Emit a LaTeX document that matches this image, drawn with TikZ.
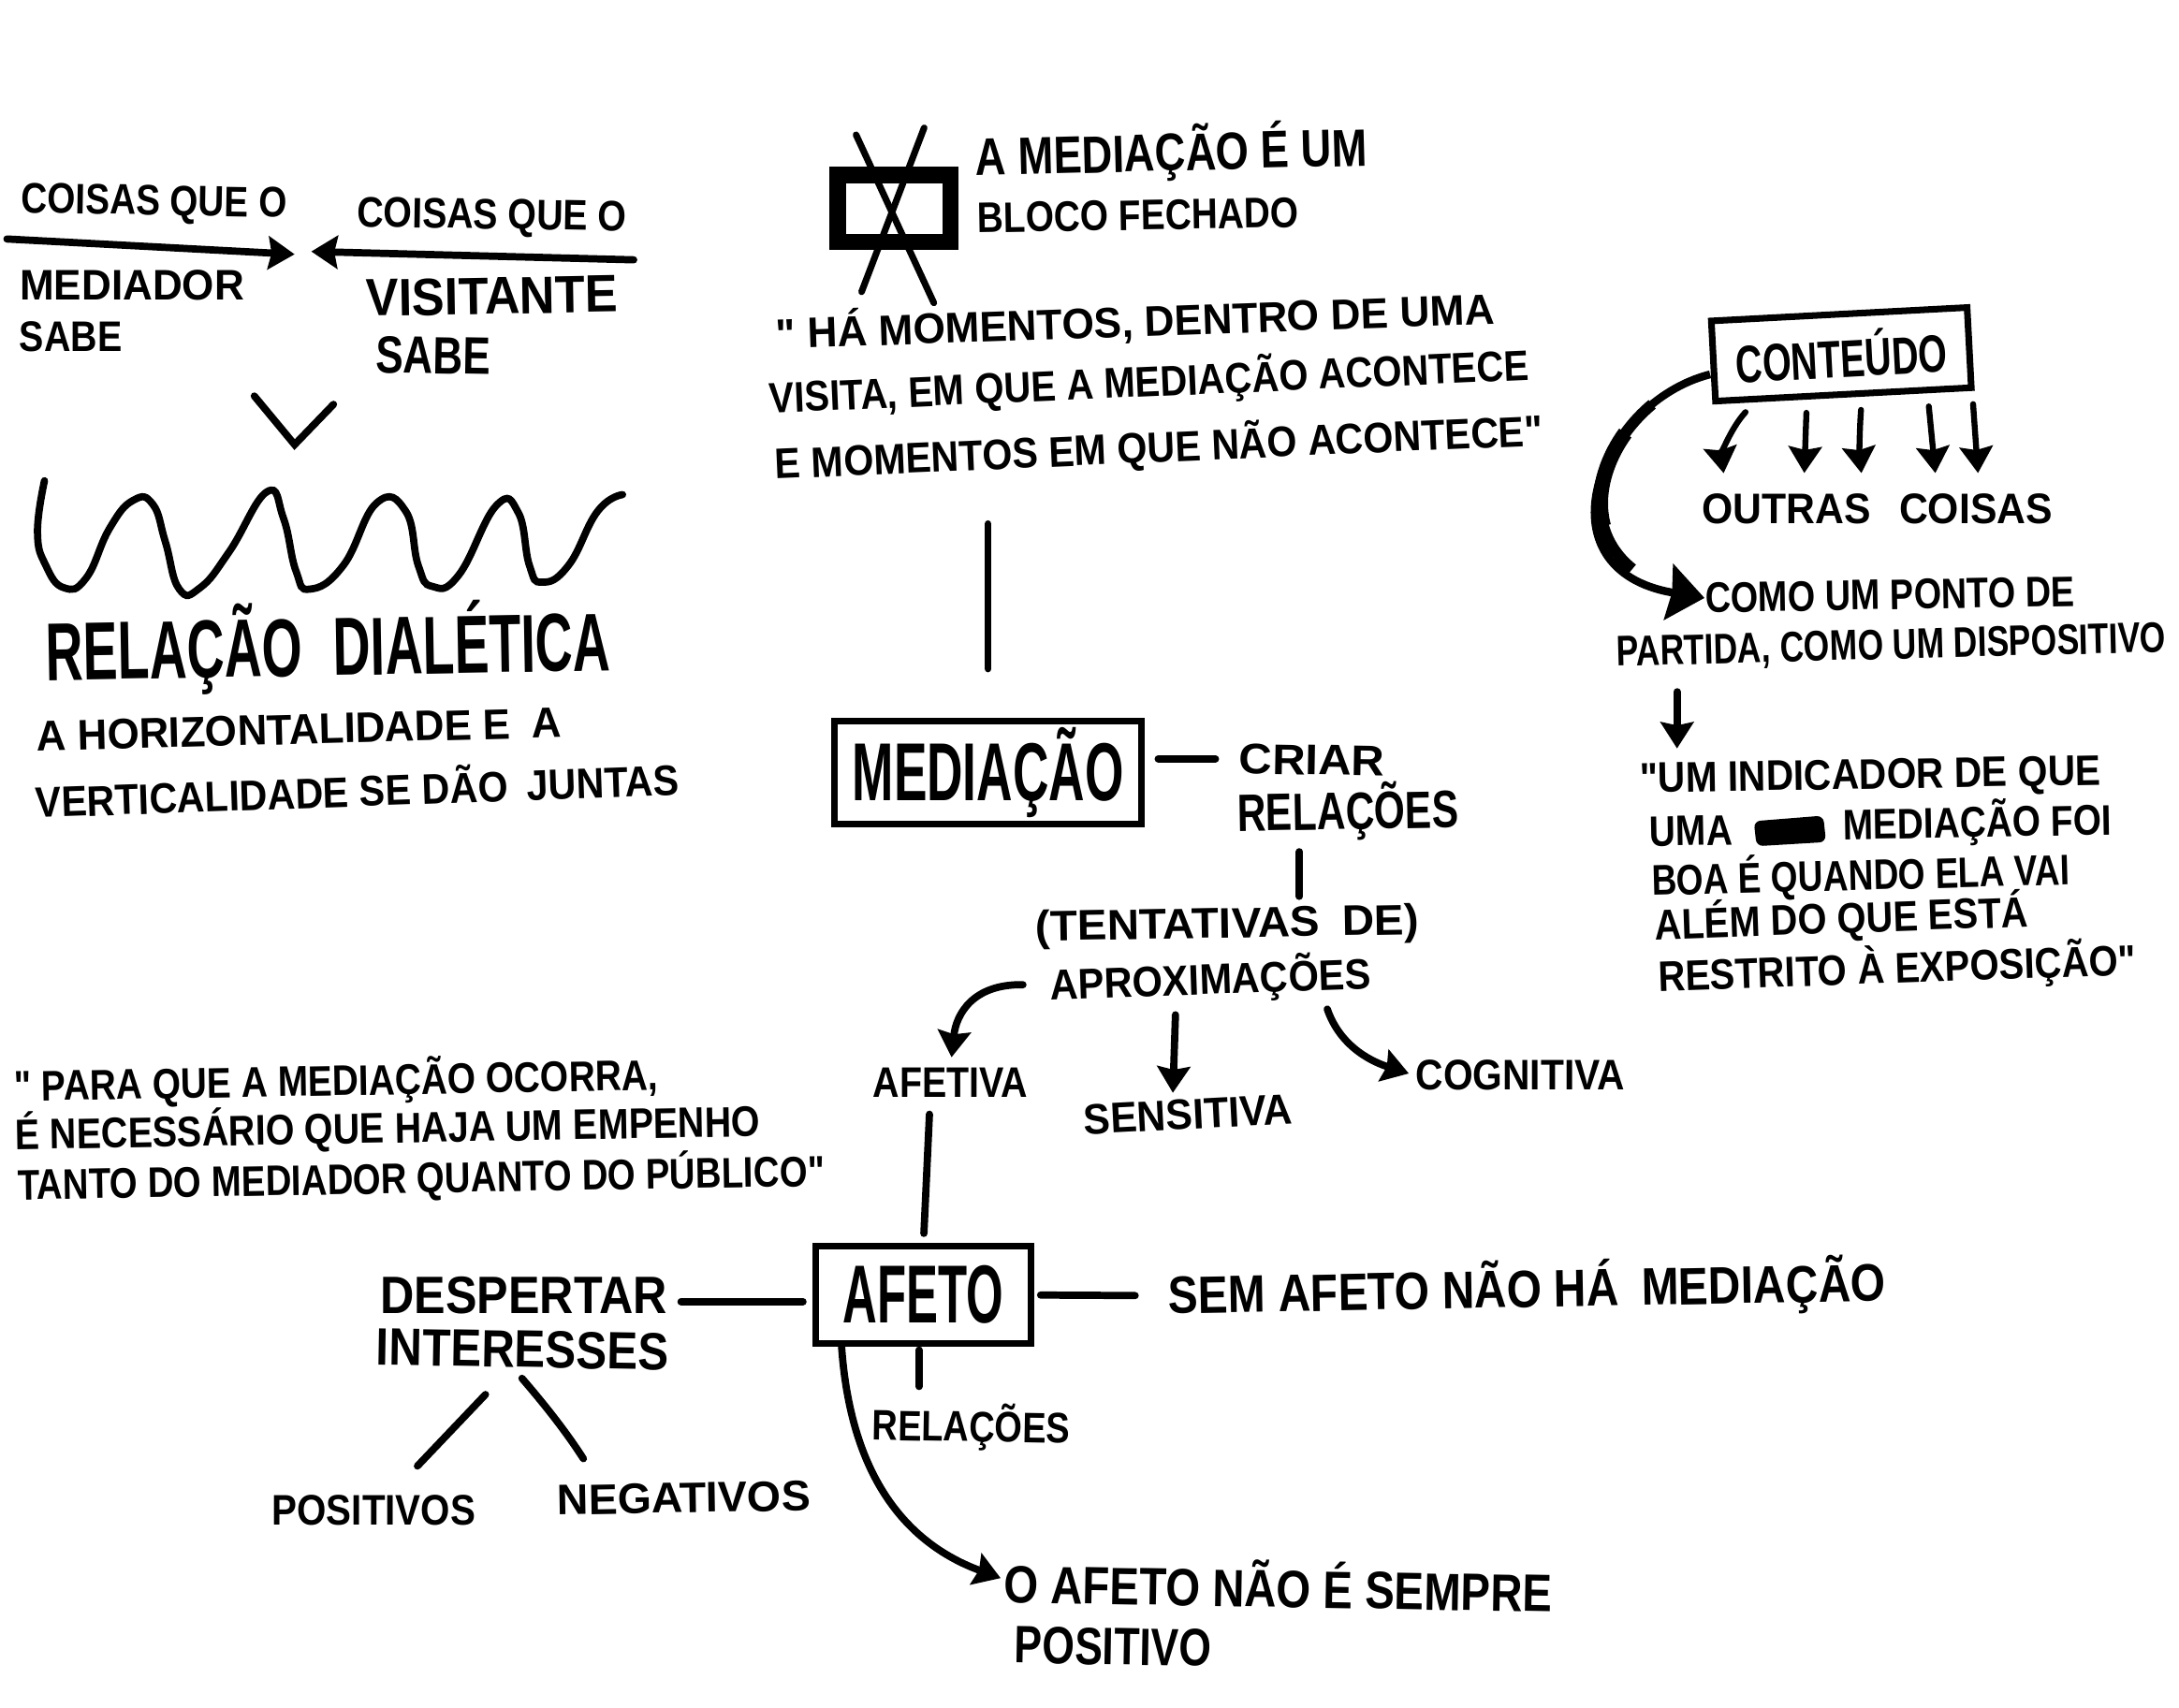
\documentclass[tikz,border=0pt]{standalone}
\usepackage{fontspec}
\setmainfont{Liberation Sans}[Ligatures=TeXOff]
\usepackage{graphicx}
\usetikzlibrary{arrows.meta,calc}

% squeeze a line of text to a width given in picture units
\newcommand{\fitw}[2]{\sbox0{#2}\pgfmathsetmacro\hratio{#1*0.42086/\the\wd0}\scalebox{\hratio}[1]{\usebox0}}

\tikzset{
  handS/.style={inner sep=0pt,font=\fontsize{13}{15}\selectfont\bfseries},
  handM/.style={inner sep=0pt,font=\fontsize{16}{18}\selectfont\bfseries},
  handL/.style={inner sep=0pt,font=\fontsize{25}{28}\selectfont\bfseries},
  boxed/.style={draw,line width=2pt,inner sep=0pt,align=center},
  link/.style={line width=2.2pt,line cap=round},
  tiplink/.style={link,-{Stealth[length=8pt,width=10pt,inset=1pt]}}
}

\begin{document}
\begin{tikzpicture}[>=Stealth,x=0.014847cm,y=-0.014847cm]
  \useasboundingbox (0,0) rectangle (1568,1228.6);

  % left column
  \node[handS,rotate=-1] (coisasm) at (111,147) {\fitw{192}{COISAS QUE O}};
  \node[handS,rotate=-1] (coisasv) at (354,157) {\fitw{195}{COISAS QUE O}};
  \node[handS] (mediador) at (95,205) {\fitw{162}{MEDIADOR}};
  \node[handS] (sabem) at (51,242) {\fitw{74}{SABE}};
  \node[handM,rotate=1] (visitante) at (354,213) {\fitw{182}{VISITANTE}};
  \node[handM,rotate=-1] (sabev) at (312,256) {\fitw{83}{SABE}};
  \coordinate (mstart) at (5,172);
  \coordinate (mend) at (212,183);
  \coordinate (vstart) at (456,187);
  \coordinate (vend) at (224,181);
  \draw[tiplink] (mstart) -- (mend);
  \draw[tiplink] (vstart) -- (vend);
  \draw[link] (183,285) -- (212,320) -- (240,291);
  \draw[link] plot[smooth,tension=0.8] coordinates {(32,346) (27,383) (33,407) (46,423) (62,416) (79,380) (96,360) (110,363) (119,390) (129,424) (144,423) (165,397) (192,354) (204,373) (213,411) (223,424) (247,407) (271,362) (292,368) (301,407) (311,422) (330,414) (357,364) (373,369) (381,407) (390,419) (409,407) (430,368) (448,356)};
  \node[handL,rotate=1] (dialetica) at (236,466) {\fitw{408}{RELAÇÃO\hspace{0.6em}DIALÉTICA}};
  \node[handS,rotate=1.5] (horiz) at (215,525) {\fitw{379}{A HORIZONTALIDADE E\hspace{0.5em}A}};
  \node[handS,rotate=2] (vert) at (257,567) {\fitw{465}{VERTICALIDADE SE DÃO\hspace{0.5em}JUNTAS}};

  % closed block
  \draw[line width=5pt] (603,126) rectangle (684,174);
  \draw[line width=2pt,line cap=round] (616,97) -- (672,218);
  \draw[line width=2pt,line cap=round] (665,92) -- (620,210);
  \node[handM,rotate=1.5] (blocoa) at (843,110) {\fitw{283}{A MEDIAÇÃO É UM}};
  \node[handS,rotate=1] (blocob) at (819,155) {\fitw{232}{BLOCO FECHADO}};
  \node[handS,rotate=2] (momentosa) at (817,231) {\fitw{519}{" HÁ MOMENTOS, DENTRO DE UMA}};
  \node[handS,rotate=2.5] (momentosb) at (827,275) {\fitw{549}{VISITA, EM QUE A MEDIAÇÃO ACONTECE}};
  \node[handS,rotate=2.5] (momentosc) at (834,322) {\fitw{555}{E MOMENTOS EM QUE NÃO ACONTECE"}};

  % centre column
  \node[boxed,handL,boxed,minimum width=222*0.42086pt,minimum height=74*0.42086pt] (mediacao) at (711,556) {\fitw{196}{MEDIAÇÃO}};
  \draw[link,shorten <=15pt,shorten >=16pt] (mediacao.north) -- (mediacao.north |- momentosc.south);
  \node[handS,rotate=-1] (criar) at (944,547) {\fitw{105}{CRIAR}};
  \node[handM,rotate=1] (relacoes) at (970,584) {\fitw{160}{RELAÇÕES}};
  \draw[link,shorten <=4pt,shorten >=7pt] (mediacao.east |- criar.west) -- (criar.west);
  \node[handS,rotate=1] (tentativas) at (883,667) {\fitw{277}{(TENTATIVAS\hspace{0.5em}DE)}};
  \node[handS,rotate=2] (aprox) at (871,705) {\fitw{232}{APROXIMAÇÕES}};
  \coordinate (relaeixo) at ($(relacoes.south west)!.28!(relacoes.south east)$);
  \draw[link,shorten <=3pt,shorten >=3pt] (relaeixo) -- (relaeixo |- tentativas.north);
  \node[handS] (afetiva) at (684,779) {\fitw{112}{AFETIVA}};
  \node[handS,rotate=3] (sensitiva) at (855,802) {\fitw{151}{SENSITIVA}};
  \node[handS] (cognitiva) at (1094,774) {\fitw{151}{COGNITIVA}};
  \draw[tiplink,shorten <=8pt,shorten >=3pt] (aprox.west) .. controls (700,708) and (688,730) .. (afetiva.north);
  \draw[tiplink,shorten <=3pt,shorten >=2pt] ($(aprox.south west)!.39!(aprox.south east)$) -- ($(sensitiva.north west)!.43!(sensitiva.north east)$);
  \draw[tiplink,shorten <=3pt,shorten >=2pt] ($(aprox.south west)!.85!(aprox.south east)$) .. controls (965,755) and (990,765) .. (cognitiva.west);

  % upper right
  \node[boxed,handM,rotate=3,minimum width=185*0.42086pt,minimum height=58*0.42086pt] (conteudo) at (1325,255) {\raisebox{-3pt}{\fitw{153}{CONTEÚDO}}};
  \node[handS] (outras) at (1351,366) {\fitw{253}{OUTRAS\hspace{0.7em}COISAS}};
  \foreach \t/\h/\b in {.16/.07/25,.36/.29/0,.57/.46/5,.82/.67/0,.99/.79/0}{
    \draw[tiplink,line width=1.8pt,shorten <=4pt,shorten >=6pt] ($(conteudo.south west)!\t!(conteudo.south east)$) to[bend right=\b] ($(outras.north west)!\h!(outras.north east)$);
  }
  \node[handS,rotate=1] (pontoa) at (1360,428) {\fitw{267}{COMO UM PONTO DE}};
  \node[handS,rotate=1.5] (pontob) at (1361,466) {\fitw{397}{PARTIDA, COMO UM DISPOSITIVO}};
  \draw[line width=2.4pt,-{Stealth[length=11pt,width=17pt,inset=1pt]}] ([yshift=-4pt]conteudo.west) .. controls (1150,290) and (1105,410) .. (pontoa.west);
  \draw[line width=3.4pt,dash pattern=on 0pt off 20pt on 58pt off 100pt] ([yshift=-4pt]conteudo.west) .. controls (1150,290) and (1105,410) .. (pontoa.west);
  \draw[line width=4.6pt,dash pattern=on 0pt off 32pt on 30pt off 100pt] ([yshift=-4pt]conteudo.west) .. controls (1150,290) and (1105,410) .. (pontoa.west);
  \node[handS,rotate=1] (indicador) at (1346,560) {\fitw{333}{"UM INDICADOR DE QUE}};
  \coordinate (ponteixo) at ($(pontob.south west)!.11!(pontob.south east)$);
  \draw[tiplink,shorten <=6pt,shorten >=3pt] (ponteixo) -- (ponteixo |- indicador.north);
  \node[handS,rotate=1] (uma) at (1217,598) {\fitw{60}{UMA}};
  \node[handS,rotate=1] (foi) at (1423,592) {\fitw{194}{MEDIAÇÃO FOI}};
  \fill[rounded corners=2pt] (1262,591) -- (1312,587) -- (1314,606) -- (1264,609) -- cycle;
  \node[handS,rotate=1.5] (boa) at (1339,630) {\fitw{302}{BOA É QUANDO ELA VAI}};
  \node[handS,rotate=2] (alem) at (1325,661) {\fitw{270}{ALÉM DO QUE ESTÁ}};
  \node[handS,rotate=2] (restrito) at (1365,697) {\fitw{345}{RESTRITO À EXPOSIÇÃO"}};

  % lower left quote
  \node[handS,rotate=1] (paraa) at (242,778) {\fitw{465}{" PARA QUE A MEDIAÇÃO OCORRA,}};
  \node[handS,rotate=1] (parab) at (279,812) {\fitw{538}{É NECESSÁRIO QUE HAJA UM EMPENHO}};
  \node[handS,rotate=1] (parac) at (303,848) {\fitw{583}{TANTO DO MEDIADOR QUANTO DO PÚBLICO"}};

  % lower block
  \node[boxed,handL,minimum width=155*0.42086pt,minimum height=70*0.42086pt] (afeto) at (664.5,932) {\fitw{116}{AFETO}};
  \draw[link,shorten <=5pt,shorten >=3pt] ($(afetiva.south west)!.37!(afetiva.south east)$) -- (afeto.north);
  \node[handM] (despertar) at (377,932) {\fitw{207}{DESPERTAR}};
  \node[handM,rotate=-1] (interesses) at (376,971) {\fitw{211}{INTERESSES}};
  \draw[link,shorten <=4pt,shorten >=3pt] ([yshift=-2pt]despertar.east) -- ([yshift=-2pt]afeto.west);
  \node[handM,rotate=1] (semafeto) at (1099,928) {\fitw{518}{SEM AFETO NÃO HÁ\hspace{0.5em}MEDIAÇÃO}};
  \draw[link,shorten <=2pt,shorten >=10pt] (afeto.east) -- (semafeto.west);
  \node[handS] (positivos) at (269,1087) {\fitw{147}{POSITIVOS}};
  \node[handS,rotate=1] (negativos) at (492,1078) {\fitw{183}{NEGATIVOS}};
  \draw[link,shorten <=11pt,shorten >=12pt] ($(interesses.south west)!.46!(interesses.south east)$) -- ($(positivos.north west)!.58!(positivos.north east)$);
  \draw[link,shorten <=4pt,shorten >=9pt] ($(interesses.south west)!.47!(interesses.south east)$) to[bend left=4] ($(negativos.north west)!.17!(negativos.north east)$);
  \node[handS,rotate=-1] (relacoesb) at (699,1027) {\fitw{143}{RELAÇÕES}};
  \coordinate (afetoeixo) at ($(afeto.south west)!.48!(afeto.south east)$);
  \draw[link,shorten <=1pt,shorten >=5pt] (afetoeixo) -- (afetoeixo |- relacoesb.north);
  \node[handM,rotate=-1] (semprea) at (920,1140) {\fitw{396}{O AFETO NÃO É SEMPRE}};
  \node[handM,rotate=-1] (sempreb) at (801,1185) {\fitw{142}{POSITIVO}};
  \draw[tiplink,shorten >=1pt] ($(afeto.south west)!.13!(afeto.south east)$) .. controls (612,1060) and (650,1110) .. (semprea.west);
\end{tikzpicture}
\end{document}
